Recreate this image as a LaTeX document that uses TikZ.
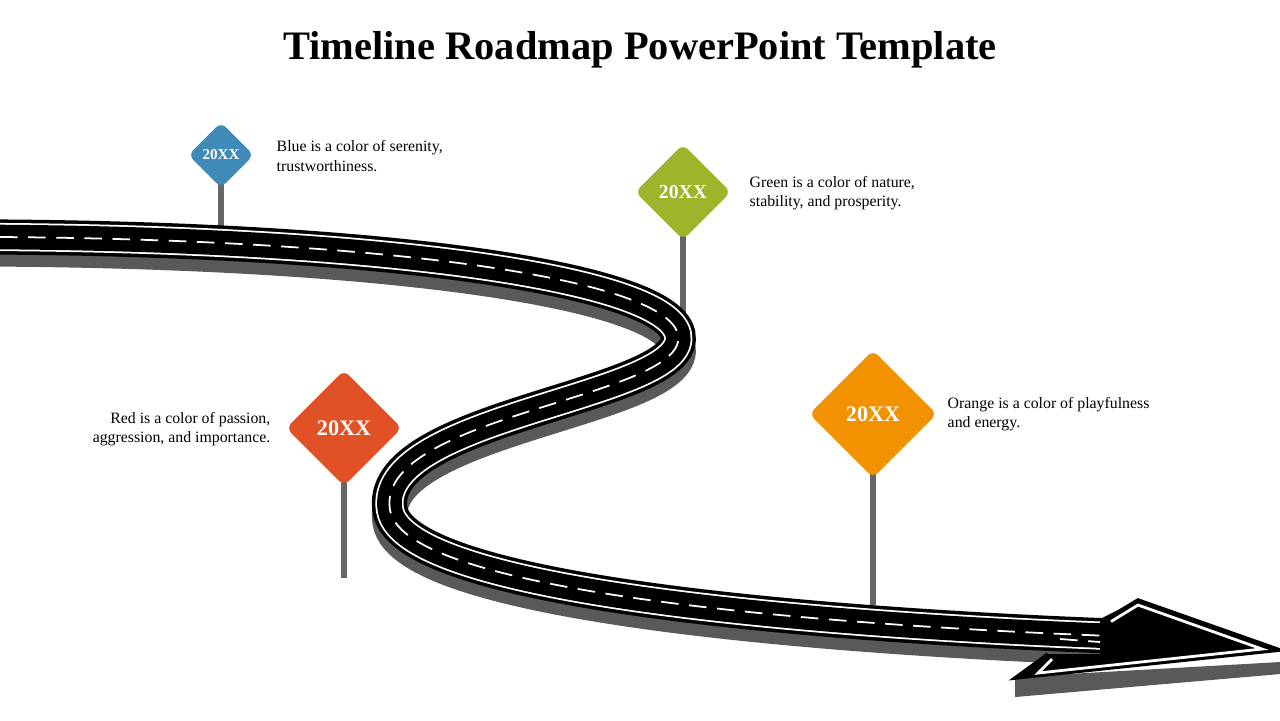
\documentclass[tikz,border=0pt]{standalone}
\usepackage{fontspec}
\setmainfont{Liberation Serif}
\usetikzlibrary{shapes.geometric}
\definecolor{signBlue}{HTML}{3F8AB7}
\definecolor{signGreen}{HTML}{9DB52A}
\definecolor{signRed}{HTML}{E05226}
\definecolor{signOrange}{HTML}{F39200}
\definecolor{roadShadow}{HTML}{595959}
\definecolor{poleGray}{HTML}{666666}
\tikzset{
	sign/.style={diamond, rounded corners=2pt, aspect=1, inner sep=0pt, text=white, font=\bfseries},
	pole/.style={poleGray, line width=1.8pt},
	note/.style={align=left, anchor=west, inner sep=0pt, font=\fontsize{4.5}{5.5}\selectfont}
}
\newcommand{\roadPath}{(0,237) .. controls (420,240) and (700,285) .. (677,345) .. controls (655,400) and (375,420) .. (390,510) .. controls (405,600) and (900,628) .. (1112,636)}
\begin{document}
\begin{tikzpicture}[x=0.01cm,y=-0.01cm]
	\useasboundingbox (0,0) rectangle (1280,720);

	\node[font=\bfseries\fontsize{11.5}{13}\selectfont] (title) at (640,50) {Timeline Roadmap PowerPoint Template};

	% poles behind road
	\coordinate (blueFoot) at (221,255);
	\coordinate (greenFoot) at (683,335);
	\draw[pole] (221,180) -- (blueFoot);
	\draw[pole] (683,230) -- (greenFoot);

	% road
	\begin{scope}[yshift=-0.12cm]
		\draw[roadShadow, line width=10pt] \roadPath;
		\fill[roadShadow] (1015,665) -- (1280,650) -- (1280,662) -- (1015,685) -- cycle;
	\end{scope}
	\draw[black, line width=10pt] \roadPath;
	\draw[white, line width=8pt] \roadPath;
	\draw[black, line width=7pt] \roadPath;
	\draw[white, line width=0.5pt, dash pattern=on 5pt off 3pt] \roadPath;
	% arrow head
	\fill[black] (1100,619) -- (1138,600) -- (1280,650) -- (1015,678) -- (1048,654) -- (1100,654) -- cycle;
	\draw[black, line width=1pt] (1108,618) -- (1138,600) -- (1280,650) -- (1015,678) -- (1048,654);
	\draw[white, line width=0.8pt] (1111,621.5) -- (1138,605) -- (1262,649) -- (1038,673) -- (1052,659);
	\draw[white, line width=0.5pt, dash pattern=on 5pt off 3pt] (1060,639) -- (1100,642);

	% poles in front
	\coordinate (redFoot) at (344,578);
	\coordinate (orangeFoot) at (873,605);
	\draw[pole] (344,470) -- (redFoot);
	\draw[pole] (873,460) -- (orangeFoot);

	% signs
	\node[sign, fill=signBlue, minimum size=0.66cm, font=\bfseries\fontsize{4.3}{5}\selectfont] (blue) at (221,155) {20XX};
	\node[sign, fill=signGreen, minimum size=0.96cm, font=\bfseries\fontsize{5.6}{6}\selectfont] (green) at (683,192) {20XX};
	\node[sign, fill=signRed, minimum size=1.16cm, font=\bfseries\fontsize{6.3}{7}\selectfont] (red) at (344,428) {20XX};
	\node[sign, fill=signOrange, minimum size=1.28cm, font=\bfseries\fontsize{6.3}{7}\selectfont] (orange) at (873,414) {20XX};

	% notes
	\node[note] (blueNote) at (276,156) {Blue is a color of serenity,\\trustworthiness.};
	\node[note] (greenNote) at (749,193) {Green is a color of nature,\\stability, and prosperity.};
	\node[note, align=right, anchor=east] (redNote) at (271,429) {Red is a color of passion,\\aggression, and importance.};
	\node[note] (orangeNote) at (947,414) {Orange is a color of playfulness\\and energy.};
\end{tikzpicture}
\end{document}
